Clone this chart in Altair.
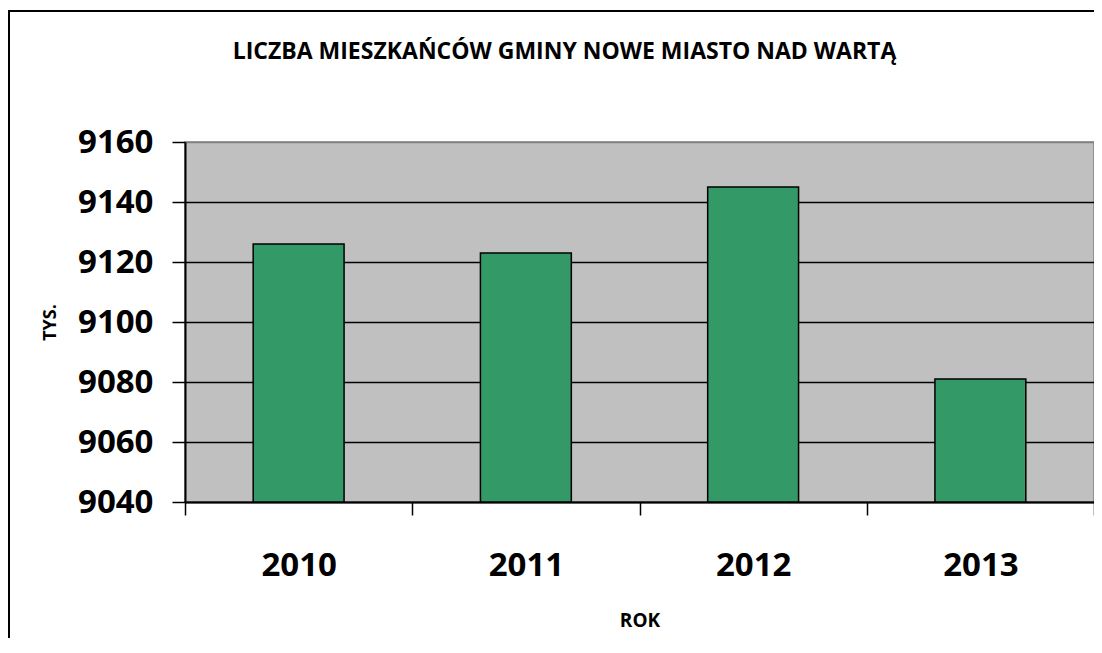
import altair as alt
import pandas as pd

years = ["2010", "2011", "2012", "2013"]
values = [9126, 9123, 9145, 9081]
y_ticks = [9040, 9060, 9080, 9100, 9120, 9140, 9160]

df = pd.DataFrame({"rok": years, "tys": values})
FONT = "Open Sans"

bars = alt.Chart(df).mark_bar(
    color="#339966", stroke="black", strokeWidth=1.5, clip=True,
    width=alt.RelativeBandSize(0.4),
).encode(
    x=alt.X(
        "rok:N",
        sort=years,
        scale=alt.Scale(paddingInner=0, paddingOuter=0),
        axis=alt.Axis(
            title="ROK",
            titleFont=FONT, titleFontSize=19, titleFontWeight="bold",
            titleBaseline="alphabetic", titleY=124, titleColor="black",
            labelFont=FONT, labelFontSize=33, labelFontWeight="bold",
            labelColor="black", labelAngle=0, labelBaseline="alphabetic",
            labelPadding=60, tickBand="extent", tickSize=13,
            tickColor="black", tickWidth=1.5, domainColor="black",
            domainWidth=2, grid=False,
        ),
    ),
    y=alt.Y(
        "tys:Q",
        scale=alt.Scale(domain=[9040, 9160], zero=False, nice=False),
        axis=alt.Axis(
            title="TYS.",
            values=y_ticks,
            titleFont=FONT, titleFontSize=18, titleFontWeight="bold",
            titleColor="black", titleAngle=270, titleBaseline="middle",
            titleX=-135, titleY=180,
            labelFont=FONT, labelFontSize=33, labelFontWeight="bold",
            labelColor="black", labelPadding=19, tickSize=13,
            tickColor="black", tickWidth=1.5, domainColor="black",
            domainWidth=2, format="d",
            gridColor=alt.condition(
                alt.datum.value == 9160, alt.value("#808080"), alt.value("black")
            ),
            gridWidth=1.5,
        ),
    ),
    y2=alt.datum(9040),
)

one = pd.DataFrame({"a": [0]})
border_top = alt.Chart(one).mark_rule(color="black", strokeWidth=2).encode(
    x=alt.value(-177), x2=alt.value(909), y=alt.value(-131),
)
border_left = alt.Chart(one).mark_rule(color="black", strokeWidth=2).encode(
    x=alt.value(-176), y=alt.value(-132), y2=alt.value(496),
)

chart = alt.layer(border_top, border_left, bars).properties(
    width=909,
    height=360,
    autosize=alt.AutoSizeParams(type="none"),
    padding={"left": 177, "top": 134, "right": 0, "bottom": 136},
    background="white",
    title=alt.TitleParams(
        "LICZBA MIESZKAŃCÓW GMINY NOWE MIASTO NAD WARTĄ",
        font=FONT, fontSize=23, fontWeight="bold", color="black",
        anchor="middle", dx=-75, offset=-73, baseline="alphabetic",
    ),
).configure_view(
    fill="#C0C0C0", stroke="#808080", strokeWidth=1.5
)

chart.save("out.html", embed_options={"renderer": "svg", "actions": False})
